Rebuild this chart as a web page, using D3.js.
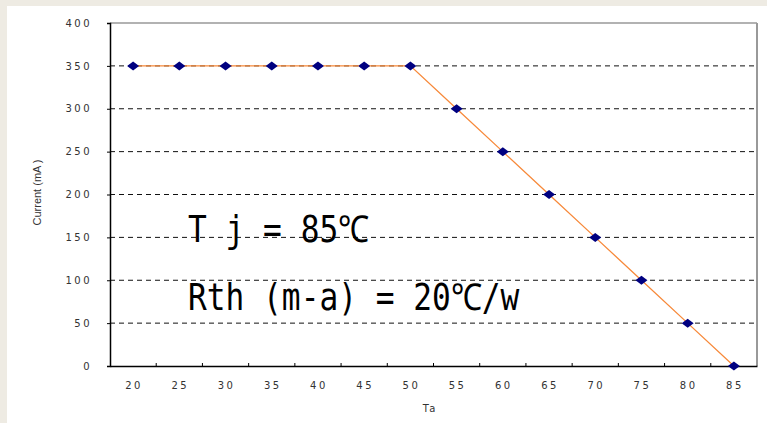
<!DOCTYPE html>
<html>
<head>
<meta charset="utf-8">
<script src="https://cdn.jsdelivr.net/npm/d3@7"></script>
<style>
  body { margin: 0; background: #eeebe3; }
  svg { display: block; }
  .tick text { font-family: "DejaVu Sans", sans-serif; font-size: 10px; fill: #333; letter-spacing: 2.5px; }
</style>
</head>
<body>
<svg id="chart" width="767" height="423"></svg>
<script>
// derating curve data
const ta = [20, 25, 30, 35, 40, 45, 50, 55, 60, 65, 70, 75, 80, 85]
const current = [350, 350, 350, 350, 350, 350, 350, 300, 250, 200, 150, 100, 50, 0]
const yTicks = [0, 50, 100, 150, 200, 250, 300, 350, 400]
const notes = ['T j = 85\u2103', 'Rth (m-a) = 20\u2103/w']

const svg = d3.select('#chart')
const plotL = 110, plotR = 757, plotT = 23, plotB = 366

// white panel
svg.append('rect').attr('x', 7).attr('y', 6).attr('width', 760).attr('height', 417).attr('fill', '#fff')

const x = d3.scaleBand().domain(ta).range([plotL, plotR])
const y = d3.scaleLinear().domain([0, 400]).range([plotB, plotT])
const cx = d => x(d) + x.bandwidth() / 2

// gridlines
svg.append('g')
    .selectAll('line')
    .data(yTicks.filter(v => v > 0 && v < 400))
    .join('line')
    .attr('x1', plotL).attr('x2', plotR)
    .attr('y1', d => y(d)).attr('y2', d => y(d))
    .attr('stroke', '#111').attr('stroke-width', 1).attr('stroke-dasharray', '5,4')

// frame top / right
svg.append('line').attr('x1', plotL).attr('x2', plotR).attr('y1', plotT).attr('y2', plotT).attr('stroke', '#999').attr('stroke-width', 1.5)
svg.append('line').attr('x1', plotR).attr('x2', plotR).attr('y1', plotT).attr('y2', plotB).attr('stroke', '#999').attr('stroke-width', 2)

// y axis
const yAxis = svg.append('g')
    .attr('transform', `translate(${plotL},0)`)
    .call(d3.axisLeft(y).tickValues(yTicks).tickSize(3).tickPadding(15))
yAxis.select('.domain').attr('stroke', '#000').attr('stroke-width', 1.5)

// x axis, ticks at band boundaries pointing inward
const xAxis = svg.append('g')
    .attr('transform', `translate(0,${plotB})`)
    .call(d3.axisBottom(x).tickSize(0).tickPadding(16))
xAxis.select('.domain').attr('stroke', '#000').attr('stroke-width', 1.5)
xAxis.selectAll('.tick text').attr('dx', '1px')
svg.append('g')
    .selectAll('line')
    .data(ta.slice(1))
    .join('line')
    .attr('x1', d => x(d)).attr('x2', d => x(d))
    .attr('y1', plotB).attr('y2', plotB - 3)
    .attr('stroke', '#000')

// axis titles
svg.append('text')
    .attr('transform', `translate(41,${(plotT + plotB) / 2 - 2}) rotate(-90)`)
    .attr('text-anchor', 'middle')
    .attr('font-family', 'Liberation Sans, sans-serif').attr('font-size', 11).attr('fill', '#333')
    .text('Current (mA )')
svg.append('text')
    .attr('x', 430).attr('y', 412)
    .attr('text-anchor', 'middle')
    .attr('font-family', 'DejaVu Sans, sans-serif').attr('font-size', 10).attr('fill', '#333')
    .attr('letter-spacing', '2px')
    .text('Ta')

// curve
const line = d3.line().x((d, i) => cx(ta[i])).y(d => y(d))
svg.append('path')
    .datum(current)
    .attr('d', line)
    .attr('fill', 'none').attr('stroke', '#f7893a').attr('stroke-width', 1.3)

svg.append('g')
    .selectAll('path')
    .data(current)
    .join('path')
    .attr('transform', (d, i) => `translate(${cx(ta[i])},${y(d)})`)
    .attr('d', 'M-6,0L0,-4.5L6,0L0,4.5Z')
    .attr('fill', '#000080')

// annotations (tall, narrow monospace look)
svg.append('g')
    .selectAll('text')
    .data(notes)
    .join('text')
    .attr('transform', (d, i) => `translate(188,${242 + i * 68}) scale(0.975,1.16)`)
    .attr('font-family', 'DejaVu Sans Mono, monospace')
    .attr('font-size', 32)
    .attr('fill', '#000')
    .text(d => d)
</script>
</body>
</html>
